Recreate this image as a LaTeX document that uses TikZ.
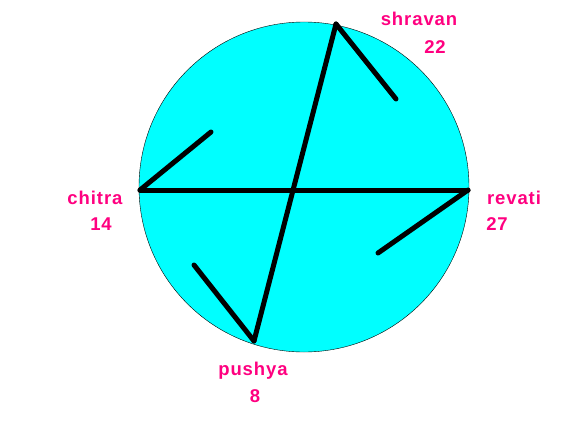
\documentclass[tikz,border=0pt]{standalone}
\usepackage{fontspec}
\setmainfont{Liberation Sans}
\usetikzlibrary{positioning}

\definecolor{nakpink}{RGB}{255,0,128}
\definecolor{nakcyan}{RGB}{0,255,255}
\tikzset{
    naklabel/.style={text=nakpink, font=\fontsize{18.5}{18.5}\selectfont\bfseries\addfontfeature{LetterSpace=5}, inner sep=0pt},
    chord/.style={line width=5pt, line cap=round}
}

\begin{document}
\begin{tikzpicture}[x=1pt,y=-1pt]
    \useasboundingbox (0,0) rectangle (567,444);

    % Circle
    \draw[fill=nakcyan, thin] (304,187) circle (165);

    % Star points
    \coordinate (shravan) at (336,24);
    \coordinate (chitra) at (140,190);
    \coordinate (revati) at (468,190);
    \coordinate (pushya) at (254,341);

    % Free ends of the short strokes
    \coordinate (shravanEnd) at (396,99);
    \coordinate (chitraEnd) at (211,132);
    \coordinate (revatiEnd) at (378,253);
    \coordinate (pushyaEnd) at (194,265);

    % Long chords
    \draw[chord] (chitra) -- (revati);
    \draw[chord] (shravan) -- (pushya);

    % Short strokes
    \draw[chord] (shravan) -- (shravanEnd);
    \draw[chord] (chitra) -- (chitraEnd);
    \draw[chord] (revati) -- (revatiEnd);
    \draw[chord] (pushya) -- (pushyaEnd);

    % Labels
    \node[naklabel] (shravanName) at (419,19) {shravan};
    \node[naklabel] (shravanNum) at (435,47) {22};
    \node[naklabel] (chitraName) at (95,198) {chitra};
    \node[naklabel] (chitraNum) at (101,224) {14};
    \node[naklabel] (revatiName) at (514,198) {revati};
    \node[naklabel] (revatiNum) at (497,224) {27};
    \node[naklabel] (pushyaName) at (253,371) {pushya};
    \node[naklabel] (pushyaNum) at (255,396) {8};
\end{tikzpicture}
\end{document}
